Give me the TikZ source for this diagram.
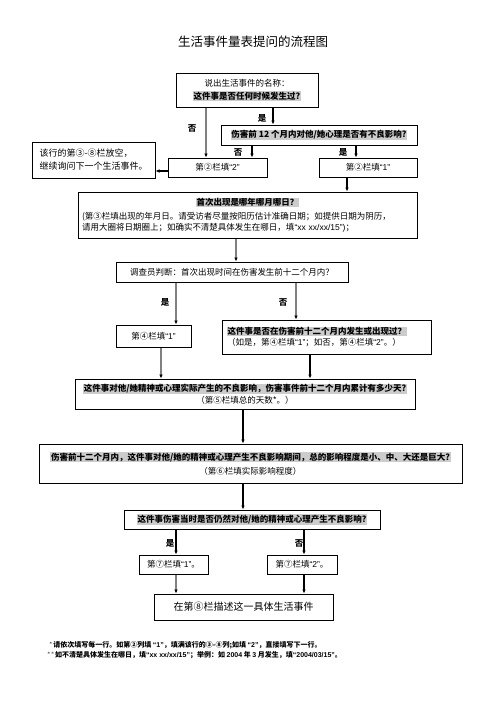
\documentclass[tikz,border=0pt]{standalone}
\usepackage{fontspec}
\setmainfont{Noto Sans CJK SC}
\newfontfamily\latf{Liberation Sans}
\usetikzlibrary{positioning,arrows.meta}
\newcommand{\hl}[1]{{\setlength{\fboxsep}{0.7pt}\colorbox{black!20}{\bfseries #1}}}
\newcommand{\qt}[1]{{\latf “#1”}}

\begin{document}
\begin{tikzpicture}[x=1pt,y=-1pt,font=\fontsize{8.5}{11}\selectfont]
  \tikzstyle{box}=[draw, line width=1pt, inner sep=2pt, align=center]
  \tikzstyle{flow}=[-{Latex[length=4pt,width=3.6pt,color=black]}, line width=1.2pt]
  \tikzstyle{gflow}=[flow, draw=black!50]
  \tikzstyle{lbl}=[inner sep=0pt, font=\fontsize{8.5}{10}\selectfont\bfseries]
  \useasboundingbox (0,0) rectangle (496,702);

  \node (title) at (253,42) {\fontsize{12.5}{14}\selectfont 生活事件量表提问的流程图};

  \node[box, minimum width=142, minimum height=34] (q1) at (247,90)
    {说出生活事件的名称：\\[2pt] \hl{这件事是否任何时候发生过?}};
  \node[box, minimum width=196, minimum height=20] (q2) at (319,135)
    {\hl{伤害前 12 个月内对他/她心理是否有不良影响?}};
  \node[box, minimum width=99, minimum height=19] (c2no) at (217.5,167.5) {第②栏填\qt{2}};
  \node[box, minimum width=98, minimum height=19] (c2yes) at (368,167.5) {第②栏填\qt{1}};
  \node[box, minimum width=123, minimum height=36, align=left,
        font=\fontsize{9}{13}\selectfont] (skip) at (93.5,160)
    {该行的第③-⑧栏放空，\\继续询问下一个生活事件。};

  \node[box, minimum width=339, minimum height=46, text width=331, align=left] (first) at (247.5,215)
    {\noindent\hbox to\hsize{\hfil\hl{首次出现是哪年哪月哪日？}\hfil}\par\vspace{3pt}
     \noindent(第③栏填出现的年月日。请受访者尽量按阳历估计准确日期；如提供日期为阴历，\\
     请用大圈将日期圈上；如确实不清楚具体发生在哪日，填\qt{xx xx/xx/15}{\latf )}；};

  \node[box, minimum width=232, minimum height=20] (judge) at (232,272)
    {调查员判断：首次出现时间在伤害发生前十二个月内？};
  \node[box, minimum width=75, minimum height=22] (c4yes) at (153.5,336) {第④栏填\qt{1}};
  \node[box, minimum width=209, minimum height=34, text width=199, align=left] (q4) at (326.5,337)
    {\hl{这件事是否在伤害前十二个月内发生或出现过？}\\
     （如是，第④栏填\qt{1}；如否，第④栏填\qt{2}。）};

  \node[box, minimum width=340, minimum height=30] (days) at (245,394)
    {\hl{这件事对他/她精神或心理实际产生的不良影响，伤害事件前十二个月内累计有多少天?}\\[1pt]
     （第⑤栏填总的天数*。）};
  \node[box, minimum width=423, minimum height=39] (degree) at (250.5,463.5)
    {\hl{伤害前十二个月内，这件事对他/她的精神或心理产生不良影响期间，总的影响程度是小、中、大还是巨大?}\\[3pt]
     （第⑥栏填实际影响程度）};
  \node[box, minimum width=256, minimum height=19] (still) at (252,519.5)
    {\hl{这件事伤害当时是否仍然对他/她的精神或心理产生不良影响?}};
  \node[box, minimum width=69, minimum height=19] (c7yes) at (173.5,564.5) {第⑦栏填\qt{1}。};
  \node[box, minimum width=70, minimum height=19] (c7no) at (302,564.5) {第⑦栏填\qt{2}。};
  \node[box, minimum width=179, minimum height=26, font=\fontsize{10}{12}\selectfont] (final) at (243.5,607)
    {在第⑧栏描述这一具体生活事件};

  % footnotes
  \node[anchor=west, inner sep=0pt, font=\fontsize{7}{8}\selectfont\bfseries] (note1) at (49,645)
    {$^{*}$请依次填写每一行。如第②列填 \qt{1}，填满该行的③-⑧列;如填 \qt{2}，直接填写下一行。};
  \node[anchor=west, inner sep=0pt, font=\fontsize{7}{8}\selectfont\bfseries] (note2) at (47,655)
    {$^{**}$如不清楚具体发生在哪日，填\qt{xx xx/xx/15}；举例：如 {\latf 2004} 年 {\latf 3} 月发生，填\qt{2004/03/15}。};

  % x positions of the connectors
  \coordinate (xa) at (206,0);
  \coordinate (xb) at (273,0);
  \coordinate (xc) at (252,0);
  \coordinate (xd) at (356,0);
  \coordinate (xe) at (347,0);
  \coordinate (xf) at (236,0);
  \coordinate (xg) at (176,0);
  \coordinate (xh) at (296,0);
  \coordinate (xi) at (161,0);
  \coordinate (xj) at (310,0);
  \coordinate (xk) at (243,0);
  \coordinate (xl) at (304,0);
  \coordinate (ya) at (0,171);

  \draw[gflow] (q1.south -| xa) -- (c2no.north -| xa);
  \draw[flow] (q1.south -| xb) -- (q2.north -| xb);
  \draw[flow] (q2.south -| xc) -- (c2no.north -| xc);
  \draw[flow] (q2.south -| xd) -- (c2yes.north -| xd);
  \draw[flow] (c2no.west |- ya) -- (skip.east |- ya);
  \draw[flow] (c2yes.south -| xe) -- (first.north -| xe);
  \draw[gflow] (first.south -| xf) -- (judge.north -| xf);
  \draw[gflow] (judge.south -| xg) -- (c4yes.north -| xg);
  \draw[gflow] (judge.south -| xh) -- (q4.north -| xh);
  \draw[gflow] (c4yes.south -| xi) -- (days.north -| xi);
  \draw[flow] (q4.south -| xj) -- (days.north -| xj);
  \draw[flow] (days.south -| xk) -- (degree.north -| xk);
  \draw[flow] (degree.south -| xk) -- (still.north -| xk);
  \draw[flow] (still.south -| xg) -- (c7yes.north -| xg);
  \draw[flow] (still.south -| xl) -- (c7no.north -| xl);
  \draw[gflow] (c7yes.south -| xg) -- (final.north -| xg);
  \draw[flow] (c7no.south -| xl) -- (final.north -| xl);

  \node[lbl] (no1) at (192,128) {否};
  \node[lbl] (yes1) at (262,118) {是};
  \node[lbl] (no2) at (238,152) {否};
  \node[lbl] (yes2) at (343,152) {是};
  \node[lbl] (yes3) at (165,302) {是};
  \node[lbl] (no3) at (283,302) {否};
  \node[lbl] (yes4) at (170,543) {是};
  \node[lbl] (no4) at (299,543) {否};
\end{tikzpicture}
\end{document}
